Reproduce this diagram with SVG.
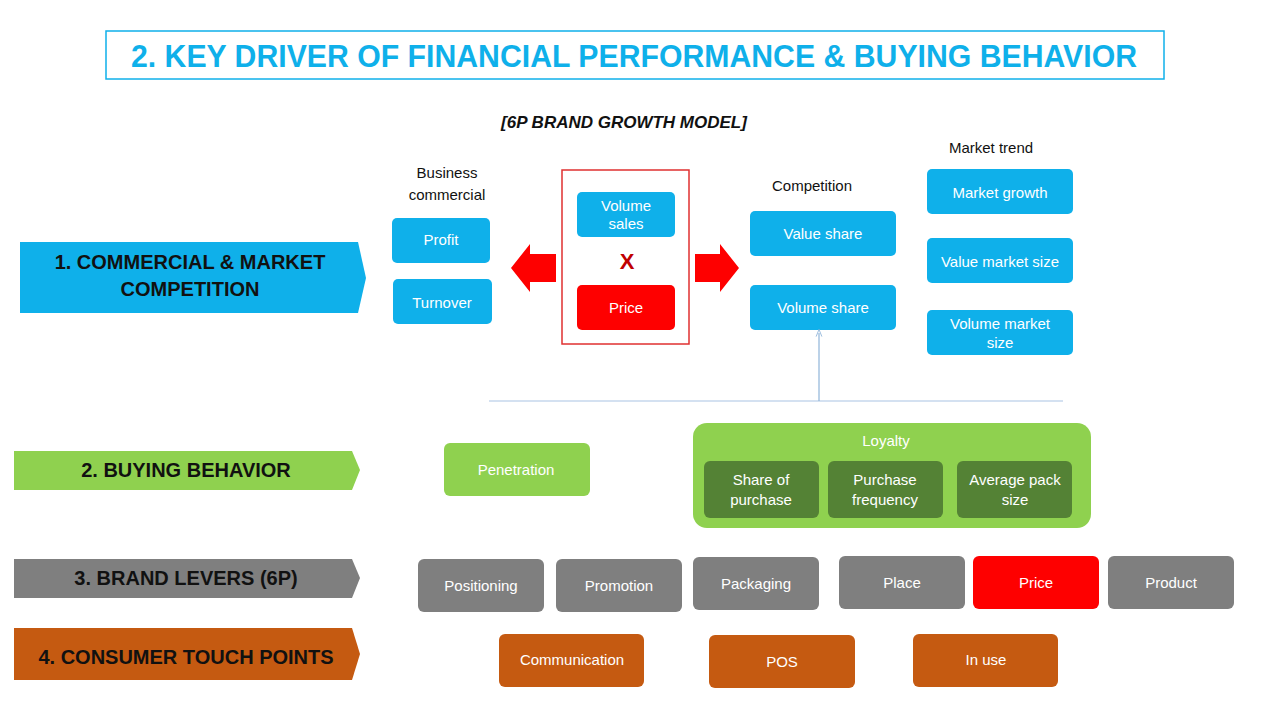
<svg xmlns="http://www.w3.org/2000/svg" width="1280" height="710" viewBox="0 0 1280 710">
<defs>
<style>
text{font-family:"Liberation Sans",Arial,sans-serif;text-anchor:middle}
.w{fill:#fff;font-size:15px}
.k{fill:#111;font-size:15px}
.lab{fill:#111;font-size:20px;font-weight:bold}
.b{fill:#0fb0ea}
.g{fill:#8fd14f}
.dg{fill:#548235}
.gr{fill:#7f7f7f}
.r{fill:#fe0000}
.o{fill:#c55a11}
</style>
<marker id="ah" viewBox="0 0 10 10" refX="5" refY="5" markerWidth="6" markerHeight="6" orient="auto"><path d="M0,1 L10,5 L0,9" fill="none" stroke="#8fb4d9" stroke-width="1.2"/></marker>
</defs>
<rect width="1280" height="710" fill="#fff"/>
<g id="title"><rect x="106" y="31" width="1058" height="48" fill="none" stroke="#0fb0ea" stroke-width="1.5"/>
<text x="634" y="67" textLength="1006" lengthAdjust="spacingAndGlyphs" style="font-size:31px;font-weight:bold;fill:#0fb0ea">2. KEY DRIVER OF FINANCIAL PERFORMANCE &amp; BUYING BEHAVIOR</text></g>
<text x="624" y="128" style="font-size:17px;font-weight:bold;font-style:italic;fill:#111">[6P BRAND GROWTH MODEL]</text>
<text class="k" x="447" y="178">Business</text><text class="k" x="447" y="200">commercial</text>
<text class="k" x="812" y="191">Competition</text>
<text class="k" x="991" y="153">Market trend</text>

<g id="label1"><path d="M20,242 H358 L366,278 L358,313 H20 Z" class="b"/><text class="lab" x="190" y="269">1. COMMERCIAL &amp; MARKET</text><text class="lab" x="190" y="296">COMPETITION</text></g>
<g id="label2"><path d="M14,451 H352 L360,470 L352,490 H14 Z" class="g"/><text class="lab" x="186" y="477">2. BUYING BEHAVIOR</text></g>
<g id="label3"><path d="M14,559 H352 L360,578 L352,598 H14 Z" class="gr"/><text class="lab" x="186" y="585">3. BRAND LEVERS (6P)</text></g>
<g id="label4"><path d="M14,628 H352 L360,654 L352,680 H14 Z" class="o"/><text class="lab" x="186" y="664">4. CONSUMER TOUCH POINTS</text></g>

<g id="profit"><rect x="392" y="218" width="98" height="45" rx="5" class="b"/><text class="w" x="441" y="245">Profit</text></g>
<g id="turnover"><rect x="393" y="279" width="99" height="45" rx="5" class="b"/><text class="w" x="442" y="308">Turnover</text></g>
<g id="formula"><rect x="562" y="170" width="127" height="174" fill="none" stroke="#e03030" stroke-width="1.5"/>
<rect x="577" y="192" width="98" height="45" rx="5" class="b"/><text class="w" x="626" y="211">Volume</text><text class="w" x="626" y="229">sales</text>
<text x="627" y="269" style="font-size:22px;font-weight:bold;fill:#c00000">X</text>
<rect x="577" y="285" width="98" height="45" rx="5" class="r"/><text class="w" x="626" y="313">Price</text></g>
<g id="arrows"><path d="M556,254 H530 V244 L511,268 L530,292 V282 H556 Z" class="r"/><path d="M695,254 H720 V244 L739,268 L720,292 V282 H695 Z" class="r"/></g>
<g id="valueshare"><rect x="750" y="211" width="146" height="45" rx="5" class="b"/><text class="w" x="823" y="239">Value share</text></g>
<g id="volumeshare"><rect x="750" y="285" width="146" height="45" rx="5" class="b"/><text class="w" x="823" y="313">Volume share</text></g>
<g id="marketgrowth"><rect x="927" y="169" width="146" height="45" rx="5" class="b"/><text class="w" x="1000" y="198">Market growth</text></g>
<g id="valuemarket"><rect x="927" y="238" width="146" height="45" rx="5" class="b"/><text class="w" x="1000" y="267">Value market size</text></g>
<g id="volumemarket"><rect x="927" y="310" width="146" height="45" rx="5" class="b"/><text class="w" x="1000" y="329">Volume market</text><text class="w" x="1000" y="348">size</text></g>

<g id="connectors"><line x1="489" y1="401" x2="1063" y2="401" stroke="#a9c4e4" stroke-width="1.2"/><line x1="819" y1="401" x2="819" y2="333" stroke="#8fb4d9" stroke-width="1.2" marker-end="url(#ah)"/></g>

<g id="penetration"><rect x="444" y="443" width="146" height="53" rx="6" class="g"/><text class="w" x="516" y="475">Penetration</text></g>
<g id="loyalty"><rect x="693" y="423" width="398" height="105" rx="14" class="g"/><text class="w" x="886" y="446">Loyalty</text>
<rect x="704" y="461" width="115" height="57" rx="6" class="dg"/><text class="w" x="761" y="485">Share of</text><text class="w" x="761" y="505">purchase</text>
<rect x="828" y="461" width="115" height="57" rx="6" class="dg"/><text class="w" x="885" y="485">Purchase</text><text class="w" x="885" y="505">frequency</text>
<rect x="957" y="461" width="115" height="57" rx="6" class="dg"/><text class="w" x="1015" y="485">Average pack</text><text class="w" x="1015" y="505">size</text></g>

<g id="positioning"><rect x="418" y="559" width="126" height="53" rx="6" class="gr"/><text class="w" x="481" y="591">Positioning</text></g>
<g id="promotion"><rect x="556" y="559" width="126" height="53" rx="6" class="gr"/><text class="w" x="619" y="591">Promotion</text></g>
<g id="packaging"><rect x="693" y="557" width="126" height="53" rx="6" class="gr"/><text class="w" x="756" y="589">Packaging</text></g>
<g id="place"><rect x="839" y="556" width="126" height="53" rx="6" class="gr"/><text class="w" x="902" y="588">Place</text></g>
<g id="price2"><rect x="973" y="556" width="126" height="53" rx="6" class="r"/><text class="w" x="1036" y="588">Price</text></g>
<g id="product"><rect x="1108" y="556" width="126" height="53" rx="6" class="gr"/><text class="w" x="1171" y="588">Product</text></g>

<g id="communication"><rect x="499" y="634" width="145" height="53" rx="6" class="o"/><text class="w" x="572" y="665">Communication</text></g>
<g id="pos"><rect x="709" y="635" width="146" height="53" rx="6" class="o"/><text class="w" x="782" y="667">POS</text></g>
<g id="inuse"><rect x="913" y="634" width="145" height="53" rx="6" class="o"/><text class="w" x="986" y="665">In use</text></g>
</svg>
